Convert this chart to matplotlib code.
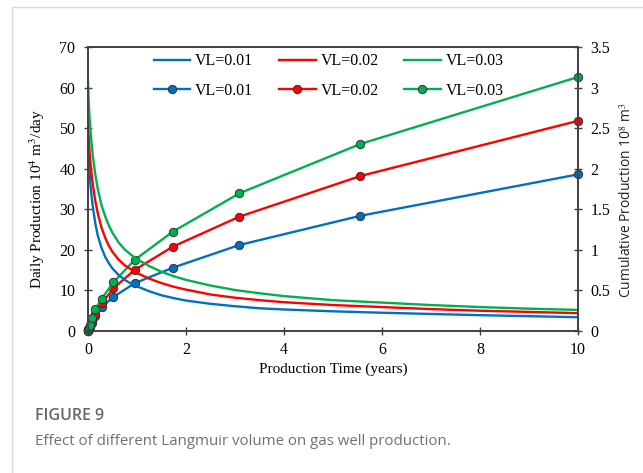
import matplotlib
matplotlib.use("Agg")
import matplotlib.pyplot as plt
from matplotlib.lines import Line2D

plt.rcParams['font.family'] = ['Liberation Serif', 'DejaVu Serif']
plt.rcParams['mathtext.fontset'] = 'stix'

# ---- data ----
series_labels = ["VL=0.01", "VL=0.02", "VL=0.03"]
colors = ["#0070C0", "#FF0000", "#00B050"]

# daily production (10^4 m3/day)
t_daily = [0, 0.01, 0.02, 0.03, 0.05, 0.075, 0.1, 0.15, 0.2, 0.275, 0.35, 0.425, 0.5, 0.625, 0.75, 0.875,
           1.0, 1.25, 1.5, 1.75, 2, 2.5, 3, 3.5, 4, 5, 6, 7, 8, 9, 10]
daily_vl1 = [47, 44, 41.5, 39.5, 36, 33, 30.5, 26.5, 23.5, 20.5, 18.3, 16.7, 15.4, 13.8, 12.6, 11.7,
             11.0, 9.8, 8.8, 8.1, 7.5, 6.7, 6.1, 5.6, 5.3, 4.85, 4.5, 4.2, 3.9, 3.65, 3.4]
daily_vl2 = [52, 49, 46.5, 44.5, 41.5, 38.5, 36, 32, 29, 25.5, 23, 21, 19.5, 17.6, 16.2, 15.2,
             14.3, 12.9, 11.8, 10.9, 10.2, 9.0, 8.2, 7.6, 7.1, 6.4, 5.9, 5.4, 5.0, 4.7, 4.4]
daily_vl3 = [61.5, 58, 55, 53, 49.5, 46, 43, 38.5, 35, 31, 28.3, 26, 24.2, 21.8, 20.1, 18.8,
             17.7, 16.0, 14.6, 13.5, 12.6, 11.2, 10.1, 9.3, 8.6, 7.6, 7.0, 6.4, 5.9, 5.5, 5.2]

# cumulative production (10^8 m3)
t_cum = [0, 0.01, 0.02, 0.04, 0.08, 0.15, 0.28, 0.52, 0.95, 1.73, 3.09, 5.56, 10]
cum_vl1 = [0, 0.012, 0.025, 0.05, 0.10, 0.18, 0.295, 0.42, 0.588, 0.78, 1.06, 1.42, 1.93]
cum_vl2 = [0, 0.015, 0.03, 0.06, 0.12, 0.21, 0.34, 0.526, 0.752, 1.039, 1.409, 1.91, 2.59]
cum_vl3 = [0, 0.02, 0.04, 0.08, 0.16, 0.267, 0.40, 0.60, 0.875, 1.224, 1.697, 2.305, 3.13]

x_ticks = [0, 2, 4, 6, 8, 10]
y_left_ticks = [0, 10, 20, 30, 40, 50, 60, 70]
y_right_ticks = [0, 0.5, 1, 1.5, 2, 2.5, 3, 3.5]
y_right_labels = ["0", "0.5", "1", "1.5", "2", "2.5", "3", "3.5"]

fig = plt.figure(figsize=(6.43, 4.73), dpi=100)

# outer light frame
fig.add_artist(Line2D([12/643, 12/643], [0, 1 - 7/473], transform=fig.transFigure, color="#d9d9d9", lw=1))
fig.add_artist(Line2D([12/643, 1], [1 - 7/473, 1 - 7/473], transform=fig.transFigure, color="#d9d9d9", lw=1))

ax = fig.add_axes([88/643, 1 - 331/473, (578 - 88)/643, (331 - 47)/473])
ax2 = ax.twinx()

dailies = [daily_vl1, daily_vl2, daily_vl3]
cums = [cum_vl1, cum_vl2, cum_vl3]
handles = []
for lab, c, d, cu in zip(series_labels, colors, dailies, cums):
    h1, = ax.plot(t_daily, d, color=c, lw=1.7, label=lab)
    h2, = ax2.plot(t_cum, cu, color=c, lw=1.7, marker='o', markersize=6,
                   markerfacecolor=c, markeredgecolor="#333333", markeredgewidth=0.7, label=lab, clip_on=False, zorder=3)
    handles += [h1, h2]

ax.set_xlim(0, 10)
ax.set_ylim(0, 70)
ax2.set_ylim(0, 3.5)
ax.set_xticks(x_ticks)
ax.set_yticks(y_left_ticks)
ax2.set_yticks(y_right_ticks)
ax2.set_yticklabels(y_right_labels)

for a in (ax, ax2):
    for s in a.spines.values():
        s.set_color("#404040")
        s.set_linewidth(1.2)
    a.tick_params(direction='inout', length=6, width=1, color="#404040", labelsize=11.5, labelcolor="black")
ax.tick_params(axis='x', pad=5)
ax.tick_params(axis='y', pad=6)
ax2.tick_params(axis='y', pad=6)

ax.set_xlabel("Production Time (years)", fontsize=11, labelpad=3)
ax.set_ylabel(r"Daily Production 10$^4$ m$^3$/day", fontsize=11)
ax.yaxis.set_label_coords((47 - 88) / 490, (331 - 199) / 284)
ax2.set_ylabel(r"Cumulative Production 10$^8$ m$^3$", fontsize=10,
               family=['Open Sans', 'DejaVu Sans'], color="#222222")
ax2.yaxis.set_label_coords((619 - 88) / 490, (331 - 200) / 284)

leg = ax.legend(handles=handles, labels=[h.get_label() for h in handles], ncol=3, frameon=False,
                loc='upper left', bbox_to_anchor=(56/490, 1.012), fontsize=11.5, handlelength=2.3,
                handletextpad=0.3, columnspacing=1.6, labelspacing=0.85, borderaxespad=0.2)
leg.set_zorder(5)
ax.set_zorder(ax2.get_zorder() + 1)
ax.patch.set_visible(False)

fig.text(35/643, 1 - 416/473, "FIGURE 9", fontsize=11.5, color="#666666", fontweight='semibold',
         family=['Open Sans', 'DejaVu Sans'], va='center', ha='left')
fig.text(35/643, 1 - 441/473, "Effect of different Langmuir volume on gas well production.", fontsize=10.8,
         color="#707070", family=['Open Sans', 'DejaVu Sans'], va='center', ha='left')

fig.savefig("out.png", dpi=100)
